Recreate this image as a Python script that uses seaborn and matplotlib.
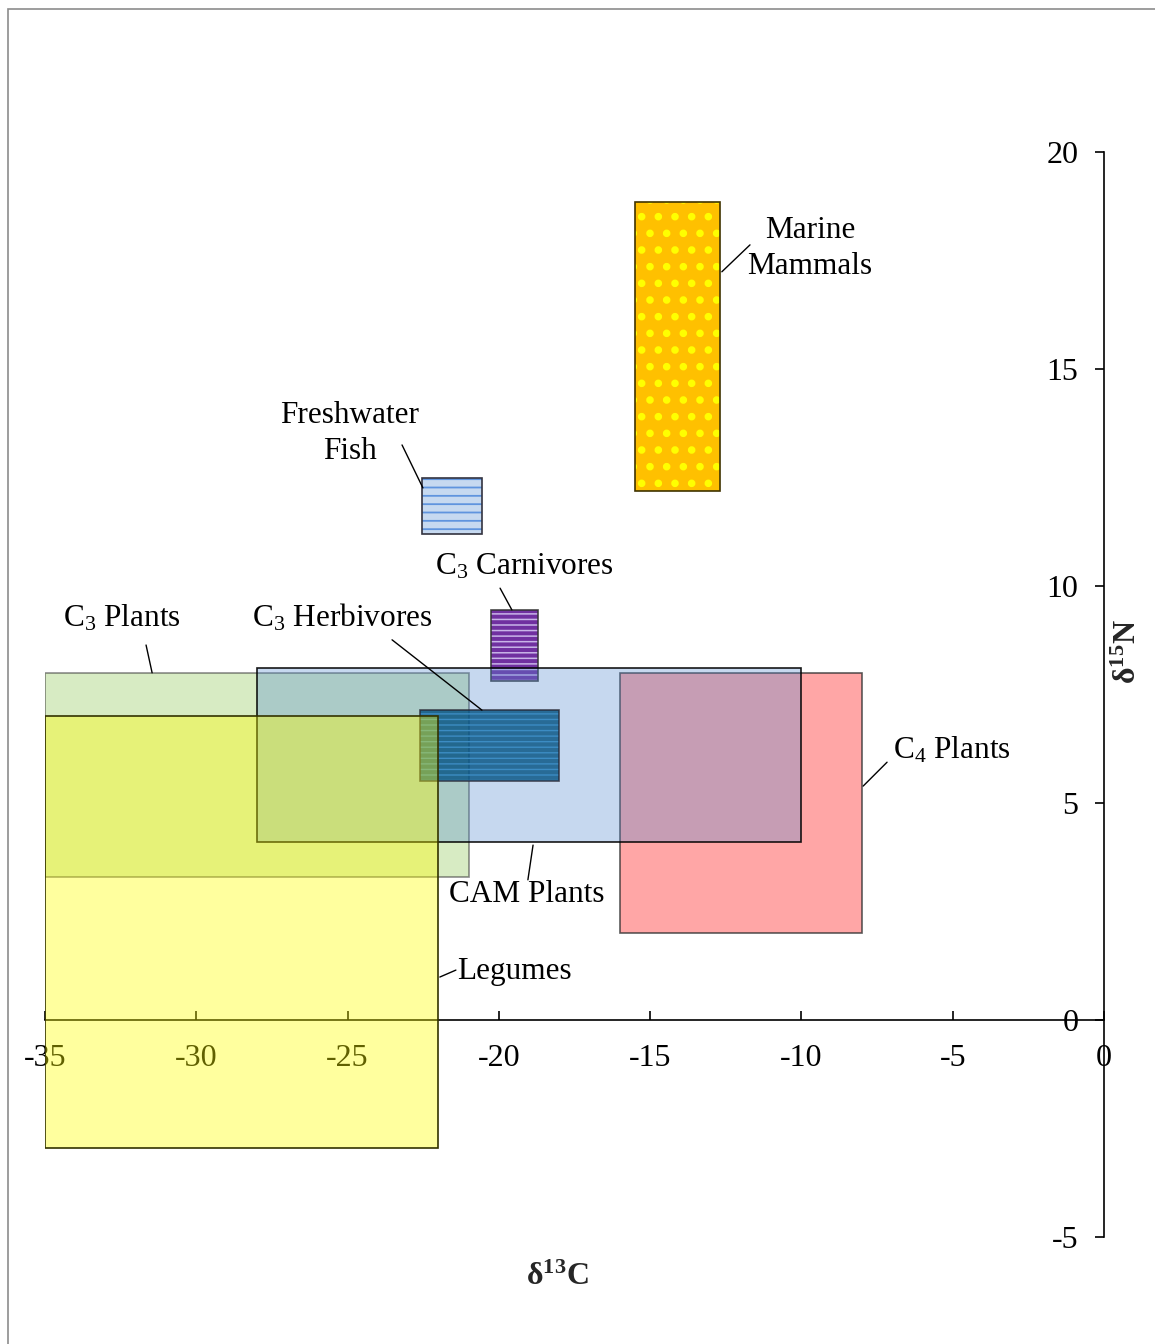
import matplotlib
matplotlib.use("Agg")
import matplotlib.pyplot as plt
import seaborn as sns
from matplotlib.patches import Rectangle

# Isotope ranges (delta 13C on x, delta 15N on y) for each food group
groups = ["C3 Plants", "C4 Plants", "C3 Carnivores", "CAM Plants",
          "C3 Herbivores", "Freshwater Fish", "Marine Mammals", "Legumes"]
c13_low = [-35.0, -16.0, -20.25, -28.0, -22.6, -22.55, -15.5, -35.0]
c13_high = [-21.0, -8.0, -18.7, -10.0, -18.0, -20.55, -12.7, -22.0]
n15_low = [3.3, 2.0, 7.8, 4.1, 5.5, 11.2, 12.2, -2.95]
n15_high = [8.0, 8.0, 9.45, 8.1, 7.15, 12.5, 18.85, 7.0]

x_ticks = [-35, -30, -25, -20, -15, -10, -5, 0]
y_ticks = [-5, 0, 5, 10, 15, 20]

# Annotation text, anchor of the text and the end points of each leader line
label_text = ["Marine\nMammals", "Freshwater\nFish", r"C$_3$ Carnivores",
              r"C$_3$ Plants", r"C$_3$ Herbivores", r"C$_4$ Plants",
              "CAM Plants", "Legumes"]
label_x = [-9.72, -24.92, -19.17, -32.46, -25.18, -5.02, -19.07, -21.38]
label_y = [17.78, 13.52, 10.45, 9.26, 9.26, 6.21, 2.90, 1.12]
label_ha = ["center", "center", "center", "center", "center", "center", "center", "left"]
leader_x0 = [-12.63, -23.20, -19.96, -31.66, -23.53, -7.17, -18.87, -21.95]
leader_y0 = [17.24, 13.25, 9.95, 8.64, 8.76, 5.94, 4.03, 0.99]
leader_x1 = [-11.70, -22.51, -19.57, -31.46, -20.56, -7.96, -19.04, -21.42]
leader_y1 = [17.86, 12.26, 9.45, 8.0, 7.14, 5.39, 3.23, 1.15]

# Fill, edge and pattern styling per group
face = {
    "C3 Plants": (157/255, 207/255, 107/255, 0.40),
    "C4 Plants": (1.0, 0.0, 0.0, 0.35),
    "C3 Carnivores": (112/255, 48/255, 160/255, 1.0),
    "CAM Plants": (82/255, 139/255, 209/255, 0.33),
    "C3 Herbivores": (1/255, 80/255, 128/255, 0.80),
    "Freshwater Fish": (198/255, 217/255, 240/255, 1.0),
    "Marine Mammals": (1.0, 192/255, 0.0, 1.0),
    "Legumes": (1.0, 1.0, 0.0, 0.38),
}
edge = {
    "C3 Plants": (0.25, 0.25, 0.25, 0.6),
    "C4 Plants": (0.2, 0.2, 0.2, 0.8),
    "C3 Carnivores": (0.2, 0.2, 0.2, 0.9),
    "CAM Plants": (0.0, 0.0, 0.0, 0.9),
    "C3 Herbivores": (0.15, 0.15, 0.2, 0.8),
    "Freshwater Fish": (0.2, 0.2, 0.25, 1.0),
    "Marine Mammals": (0.25, 0.2, 0.0, 1.0),
    "Legumes": (0.2, 0.2, 0.0, 1.0),
}
hatch = {
    "C3 Carnivores": ("---", (200/255, 180/255, 232/255), 1.1),
    "C3 Herbivores": ("---", (60/255, 140/255, 195/255), 1.0),
    "Freshwater Fish": ("--", (95/255, 148/255, 222/255), 1.3),
    "Marine Mammals": (".", (1.0, 1.0, 0.0), 3.0),
}

sns.set_theme(style="white")
plt.rcParams["font.family"] = ["Liberation Serif", "DejaVu Serif"]
plt.rcParams["mathtext.fontset"] = "custom"
plt.rcParams["mathtext.rm"] = "Liberation Serif"
plt.rcParams["mathtext.it"] = "Liberation Serif:italic"
plt.rcParams["mathtext.bf"] = "Liberation Serif:bold"
plt.rcParams["mathtext.default"] = "rm"
plt.rcParams["axes.unicode_minus"] = False

fig = plt.figure(figsize=(11.55, 13.44), dpi=100)
ax = fig.add_axes([45/1155, 1 - 1237/1344, 1059/1155, 1085/1344])

for i, g in enumerate(groups):
    z = 3 + i * 0.1
    w = c13_high[i] - c13_low[i]
    h = n15_high[i] - n15_low[i]
    ax.bar(c13_low[i], h, width=w, bottom=n15_low[i], align="edge",
           color=face[g], edgecolor="none", linewidth=0, zorder=z)
    if g in hatch:
        pat, hc, hlw = hatch[g]
        with plt.rc_context({"hatch.linewidth": hlw}):
            bars = ax.bar(c13_low[i], h, width=w, bottom=n15_low[i], align="edge",
                          color="none", edgecolor=hc, linewidth=0, hatch=pat,
                          zorder=z + 0.01)
        for b in bars:
            if hasattr(b, "set_hatch_linewidth"):
                b.set_hatch_linewidth(hlw)
    ax.bar(c13_low[i], h, width=w, bottom=n15_low[i], align="edge",
           color="none", edgecolor=edge[g], linewidth=1.2, zorder=z + 0.02)

for i, t in enumerate(label_text):
    ax.text(label_x[i], label_y[i], t, ha=label_ha[i], va="center",
            fontsize=22.5, linespacing=1.3, color="black", zorder=6)
    ax.plot([leader_x0[i], leader_x1[i]], [leader_y0[i], leader_y1[i]],
            color="black", linewidth=1.0, zorder=6)

ax.set_xlim(-35, 0)
ax.set_ylim(-5, 20)
ax.set_xticks(x_ticks)
ax.set_yticks(y_ticks)
ax.set_xticklabels([str(v) for v in x_ticks])
ax.set_yticklabels([str(v) for v in y_ticks])

ax.spines["left"].set_position(("data", 0))
ax.spines["bottom"].set_position(("data", 0))
ax.spines["top"].set_visible(False)
ax.spines["right"].set_visible(False)
for s in ("left", "bottom"):
    ax.spines[s].set_color("black")
    ax.spines[s].set_linewidth(1.2)
ax.patch.set_visible(False)

ax.tick_params(axis="x", direction="in", length=6.5, width=1.2, pad=17,
               labelsize=23, colors="black", bottom=True)
ax.tick_params(axis="y", direction="out", length=6.5, width=1.2, pad=12,
               labelsize=23, colors="black", left=True)

ax.text(-18.08, -5.92, r"$\mathbf{\delta}^{\mathbf{13}}\mathbf{C}$", ha="center",
        va="center", fontsize=23, clip_on=False)
ax.text(0.79, 8.48, r"$\mathbf{\delta}^{\mathbf{15}}\mathbf{N}$", ha="center",
        va="center", fontsize=23, rotation=90, clip_on=False)

# Thin frame around the figure
fig.add_artist(Rectangle((8/1155, -0.05), 1.1, 1 - 9/1344 + 0.05,
                         transform=fig.transFigure, fill=False,
                         edgecolor="#8c8c8c", linewidth=1.2))

fig.savefig("out.png", dpi=100)
